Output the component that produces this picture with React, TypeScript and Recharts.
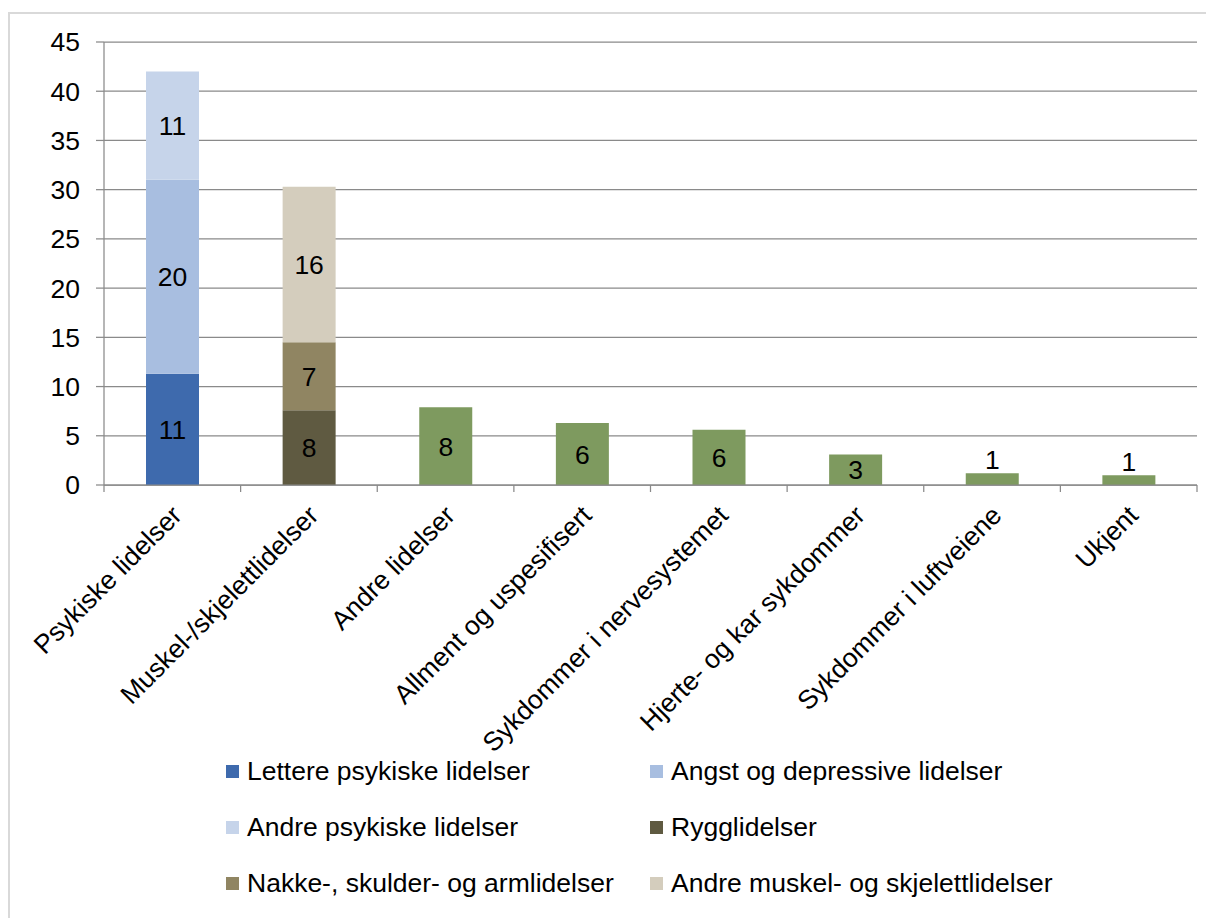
import React from 'react';
import { BarChart, Bar, XAxis, YAxis, CartesianGrid, Legend, LabelList } from 'recharts';

const categories = [
  'Psykiske lidelser',
  'Muskel-/skjelettlidelser',
  'Andre lidelser',
  'Allment og uspesifisert',
  'Sykdommer i nervesystemet',
  'Hjerte- og kar sykdommer',
  'Sykdommer i luftveiene',
  'Ukjent',
];

// stacked segments, one value per category (0 = no segment)
const lettere = [11.3, 0, 0, 0, 0, 0, 0, 0];
const angst = [19.7, 0, 0, 0, 0, 0, 0, 0];
const andrePsykiske = [11.0, 0, 0, 0, 0, 0, 0, 0];
const rygg = [0, 7.6, 0, 0, 0, 0, 0, 0];
const nakke = [0, 6.9, 0, 0, 0, 0, 0, 0];
const andreMuskel = [0, 15.8, 0, 0, 0, 0, 0, 0];
const ovrige = [0, 0, 7.9, 6.3, 5.6, 3.1, 1.2, 1.0];

const yTicks = [0, 5, 10, 15, 20, 25, 30, 35, 40, 45];

const series = [
  { key: 'lettere', name: 'Lettere psykiske lidelser', color: '#3e6aad', values: lettere },
  { key: 'angst', name: 'Angst og depressive lidelser', color: '#a8bee0', values: angst },
  { key: 'andrePsykiske', name: 'Andre psykiske lidelser', color: '#c6d4ea', values: andrePsykiske },
  { key: 'rygg', name: 'Rygglidelser', color: '#5f5a41', values: rygg },
  { key: 'nakke', name: 'Nakke-, skulder- og armlidelser', color: '#908562', values: nakke },
  { key: 'andreMuskel', name: 'Andre muskel- og skjelettlidelser', color: '#d4cdbd', values: andreMuskel },
  { key: 'ovrige', name: 'Øvrige', color: '#7e9a5f', values: ovrige, hideLegend: true },
];

const data = categories.map((name, i) => {
  const row: Record<string, any> = { name };
  series.forEach((s) => {
    row[s.key] = s.values[i];
  });
  return row;
});

const FONT = '"Liberation Sans", Arial, sans-serif';
const FS = 26.5;
const GRID = '#8a8a8a';

const SegmentLabel = (props: any) => {
  const { x, y, width, height, value } = props;
  if (!value) return null;
  const small = height < 20;
  const cy = small ? y - 14 : y + height / 2;
  return (
    <text x={x + width / 2} y={cy} dy="0.36em" textAnchor="middle" fontSize={FS} fontFamily={FONT} fill="#000">
      {Math.round(value)}
    </text>
  );
};

const CategoryTick = (props: any) => {
  const { x, y, payload, index } = props;
  const half = payload?.offset ?? 0;
  return (
    <g>
      <line x1={x - half} x2={x - half} y1={y} y2={y + 7} stroke={GRID} strokeWidth={1.25} />
      {index === categories.length - 1 && (
        <line x1={x + half} x2={x + half} y1={y} y2={y + 7} stroke={GRID} strokeWidth={1.25} />
      )}
      <g transform={`translate(${x + 11},${y + 32}) rotate(-45)`}>
        <text x={0} y={0} textAnchor="end" fontSize={FS} fontFamily={FONT} fill="#000">
          {payload.value}
        </text>
      </g>
    </g>
  );
};

const LegendBox = () => (
  <div
    style={{
      display: 'grid',
      gridTemplateColumns: '424px auto',
      gridAutoRows: '56px',
      paddingLeft: 216,
      height: 168,
      fontFamily: FONT,
      fontSize: FS,
      color: '#000',
    }}
  >
    {series
      .filter((s) => !s.hideLegend)
      .map((s) => (
        <div key={s.key} style={{ display: 'flex', alignItems: 'center', whiteSpace: 'nowrap' }}>
          <span style={{ width: 13, height: 13, background: s.color, marginRight: 8, display: 'inline-block' }} />
          <span>{s.name}</span>
        </div>
      ))}
  </div>
);

export default function App() {
  return (
    <div style={{ paddingTop: 4 }}>
      <div style={{ borderTop: '2px solid #d9d9d9', borderLeft: '2px solid #d9d9d9', width: 1204, height: 904 }}>
        <BarChart
          width={1204}
          height={904}
          data={data}
          margin={{ top: 28, right: 17, left: 0, bottom: 7 }}
          style={{ fontFamily: FONT }}
        >
          <CartesianGrid vertical={false} stroke={GRID} strokeWidth={1.25} />
          <XAxis
            dataKey="name"
            interval={0}
            height={258}
            tickLine={false}
            tickSize={0}
            tickMargin={0}
            axisLine={{ stroke: GRID, strokeWidth: 1.25 }}
            tick={<CategoryTick />}
          />
          <YAxis
            width={94}
            domain={[0, 45]}
            ticks={yTicks}
            interval={0}
            tickSize={8}
            tickMargin={16}
            axisLine={{ stroke: GRID, strokeWidth: 1.25 }}
            tickLine={{ stroke: GRID, strokeWidth: 1.25 }}
            tick={{ fontSize: FS, fill: '#000', fontFamily: FONT }}
          />
          <Legend verticalAlign="bottom" content={<LegendBox />} wrapperStyle={{ left: 0, width: 1204 }} />
          {series.map((s) => (
            <Bar key={s.key} dataKey={s.key} name={s.name} stackId="a" fill={s.color} barSize={53} isAnimationActive={false}>
              <LabelList dataKey={s.key} content={<SegmentLabel />} />
            </Bar>
          ))}
        </BarChart>
      </div>
    </div>
  );
}
